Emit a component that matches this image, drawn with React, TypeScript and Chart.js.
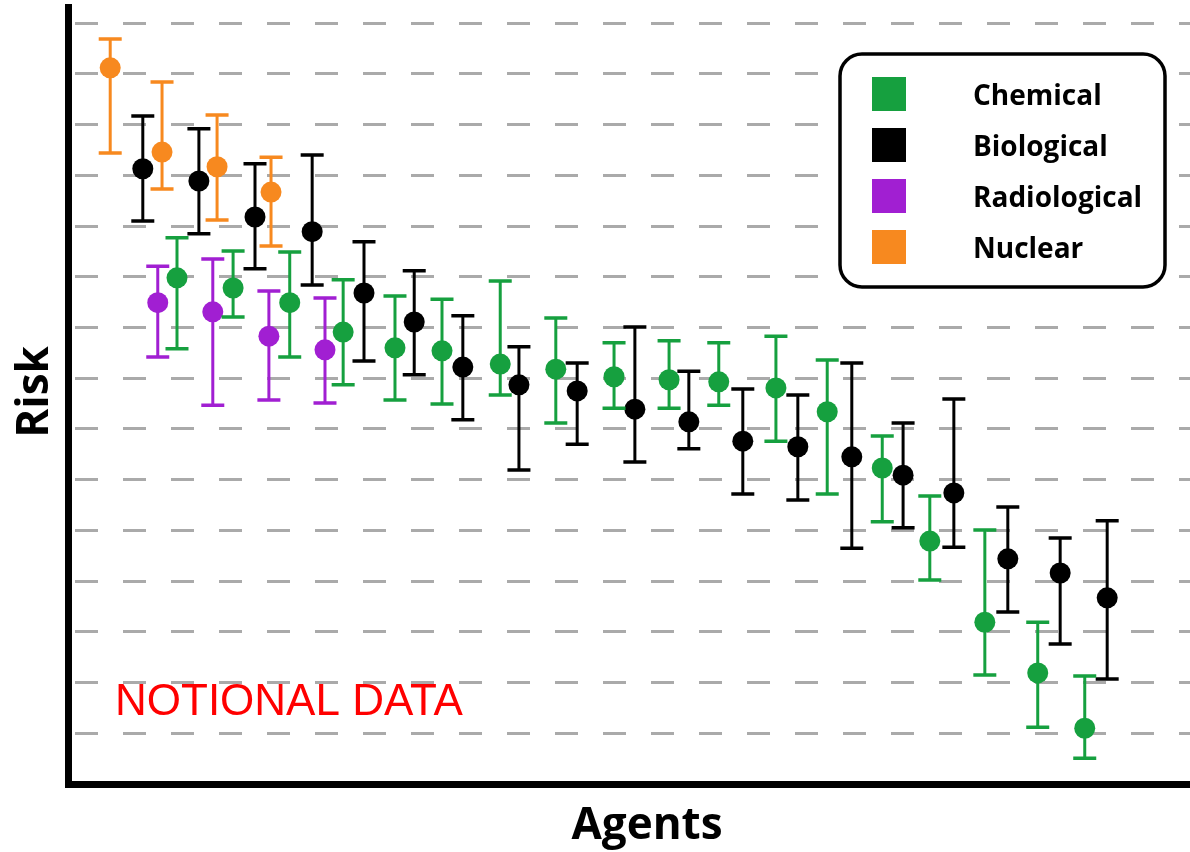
import React, { useEffect, useRef } from "react";
import { Chart, registerables } from "chart.js";

Chart.register(...registerables);

// Series labels and colours
const seriesLabels = ["Chemical", "Biological", "Radiological", "Nuclear"];
const seriesColors = ["#16a03f", "#000000", "#a11fd2", "#f7891f"];

// Chemical agents
const chemicalX = [2.04, 3.09, 4.15, 5.15, 6.12, 7.0, 8.09, 9.13, 10.22, 11.25, 12.18, 13.25, 14.21, 15.24, 16.13, 17.16, 18.15, 19.03];
const chemicalY = [9.98, 9.78, 9.49, 8.91, 8.6, 8.54, 8.28, 8.18, 8.03, 7.97, 7.93, 7.81, 7.34, 6.23, 4.79, 3.19, 2.19, 1.1];
const chemicalHigh = [10.77, 10.51, 10.49, 9.94, 9.62, 9.56, 9.92, 9.19, 8.7, 8.74, 8.7, 8.83, 8.36, 6.86, 5.68, 5.01, 3.19, 2.13];
const chemicalLow = [8.58, 9.21, 8.42, 7.87, 7.57, 7.49, 7.67, 7.12, 7.41, 7.41, 7.47, 6.76, 5.72, 5.17, 4.02, 2.15, 1.12, 0.51];

// Biological agents
const biologicalX = [1.4, 2.45, 3.5, 4.57, 5.54, 6.48, 7.39, 8.44, 9.53, 10.61, 11.62, 12.63, 13.66, 14.67, 15.63, 16.58, 17.59, 18.57, 19.45];
const biologicalY = [12.13, 11.89, 11.18, 10.89, 9.68, 9.11, 8.22, 7.87, 7.75, 7.39, 7.14, 6.76, 6.65, 6.45, 6.09, 5.74, 4.44, 4.16, 3.67];
const biologicalHigh = [13.17, 12.92, 12.23, 12.4, 10.69, 10.12, 9.23, 8.62, 8.3, 9.01, 8.14, 7.79, 7.67, 8.3, 7.12, 7.59, 5.46, 4.85, 5.19];
const biologicalLow = [11.1, 10.85, 10.16, 9.84, 8.34, 8.07, 7.18, 6.19, 6.7, 6.35, 6.61, 5.72, 5.6, 4.65, 5.05, 4.67, 3.39, 2.76, 2.07];

// Radiological agents
const radiologicalX = [1.68, 2.71, 3.76, 4.81];
const radiologicalY = [9.49, 9.31, 8.83, 8.56];
const radiologicalHigh = [10.21, 10.35, 9.72, 9.58];
const radiologicalLow = [8.42, 7.47, 7.57, 7.51];

// Nuclear agents
const nuclearX = [0.79, 1.76, 2.79, 3.8];
const nuclearY = [14.12, 12.46, 12.17, 11.67];
const nuclearHigh = [14.69, 13.84, 13.19, 12.36];
const nuclearLow = [12.44, 11.73, 11.12, 10.61];

const xTitle = "Agents";
const yTitle = "Risk";
const noteText = "NOTIONAL DATA";

const yGridValues = [1, 2, 3, 4, 5, 6, 7, 8, 9, 10, 11, 12, 13, 14, 15];

function makePoints(xs: number[], ys: number[]) {
  return xs.map((x, i) => ({ x, y: ys[i] }));
}

const errorBarPlugin = {
  id: "errorBars",
  beforeDatasetDraw(chart: any, args: any) {
    const ds = chart.data.datasets[args.index];
    if (!ds.errLow) return;
    const ctx = chart.ctx;
    const xs = chart.scales.x;
    const ys = chart.scales.y;
    ctx.save();
    ctx.strokeStyle = ds.backgroundColor;
    ctx.lineCap = "butt";
    ds.data.forEach((p: any, i: number) => {
      const px = xs.getPixelForValue(p.x);
      const top = ys.getPixelForValue(ds.errHigh[i]);
      const bot = ys.getPixelForValue(ds.errLow[i]);
      ctx.lineWidth = 3;
      ctx.beginPath();
      ctx.moveTo(px, top);
      ctx.lineTo(px, bot);
      ctx.stroke();
      ctx.lineWidth = 3.5;
      ctx.beginPath();
      ctx.moveTo(px - 11.5, top);
      ctx.lineTo(px + 11.5, top);
      ctx.moveTo(px - 11.5, bot);
      ctx.lineTo(px + 11.5, bot);
      ctx.stroke();
    });
    ctx.restore();
  },
};

const decorPlugin = {
  id: "decor",
  afterDraw(chart: any) {
    const ctx = chart.ctx;
    ctx.save();
    // Axis titles
    ctx.fillStyle = "#000";
    ctx.font = 'bold 44px "Open Sans", sans-serif';
    ctx.textAlign = "center";
    ctx.textBaseline = "alphabetic";
    ctx.fillText(xTitle, 647, 839);
    ctx.save();
    ctx.translate(48, 392);
    ctx.rotate(-Math.PI / 2);
    ctx.fillText(yTitle, 0, 0);
    ctx.restore();

    // Notional data note
    ctx.fillStyle = "#ff0000";
    ctx.font = '44px "Liberation Sans", Arial, sans-serif';
    ctx.textAlign = "left";
    ctx.fillText(noteText, 115, 715);

    // Legend box
    const bx = 840, by = 54, bw = 325, bh = 233, r = 22;
    ctx.beginPath();
    ctx.moveTo(bx + r, by);
    ctx.lineTo(bx + bw - r, by);
    ctx.arcTo(bx + bw, by, bx + bw, by + r, r);
    ctx.lineTo(bx + bw, by + bh - r);
    ctx.arcTo(bx + bw, by + bh, bx + bw - r, by + bh, r);
    ctx.lineTo(bx + r, by + bh);
    ctx.arcTo(bx, by + bh, bx, by + bh - r, r);
    ctx.lineTo(bx, by + r);
    ctx.arcTo(bx, by, bx + r, by, r);
    ctx.closePath();
    ctx.fillStyle = "#fff";
    ctx.fill();
    ctx.lineWidth = 3.5;
    ctx.strokeStyle = "#000";
    ctx.stroke();

    ctx.font = 'bold 28px "Open Sans", sans-serif';
    chart.data.datasets.forEach((ds: any, i: number) => {
      const top = 77 + i * 51;
      ctx.fillStyle = ds.backgroundColor;
      ctx.fillRect(872, top, 34, 34);
      ctx.fillStyle = "#000";
      ctx.fillText(ds.label, 973, top + 28);
    });
    ctx.restore();
  },
};

export default function App() {
  const canvasRef = useRef<HTMLCanvasElement | null>(null);

  useEffect(() => {
    const canvas = canvasRef.current;
    if (!canvas) return;
    const series = [
      [chemicalX, chemicalY, chemicalLow, chemicalHigh],
      [biologicalX, biologicalY, biologicalLow, biologicalHigh],
      [radiologicalX, radiologicalY, radiologicalLow, radiologicalHigh],
      [nuclearX, nuclearY, nuclearLow, nuclearHigh],
    ];
    const chart = new Chart(canvas, {
      type: "scatter",
      data: {
        datasets: series.map((s, i) => ({
          label: seriesLabels[i],
          data: makePoints(s[0], s[1]),
          errLow: s[2],
          errHigh: s[3],
          backgroundColor: seriesColors[i],
          borderColor: seriesColors[i],
          pointRadius: 10.5,
          pointBorderWidth: 0,
          showLine: false,
        })) as any,
      },
      options: {
        animation: false,
        responsive: false,
        devicePixelRatio: 1,
        events: [],
        layout: { autoPadding: false, padding: { left: 68, top: 7, right: 0, bottom: 68 } },
        plugins: { legend: { display: false }, tooltip: { enabled: false } },
        scales: {
          x: {
            type: "linear",
            min: 0,
            max: 21,
            ticks: { display: false },
            grid: { display: false, drawTicks: false },
            border: { display: true, color: "#000", width: 7 },
          },
          y: {
            type: "linear",
            min: 0,
            max: 15.32,
            afterBuildTicks: (scale: any) => {
              scale.ticks = yGridValues.map((v) => ({ value: v }));
            },
            ticks: { display: false },
            grid: {
              display: true,
              drawTicks: false,
              color: "#aaaaaa",
              lineWidth: 3,
            },
            border: { display: true, color: "#000", width: 7, dash: [23, 25], dashOffset: -3 },
          },
        },
      },
      plugins: [errorBarPlugin, decorPlugin],
    });
    return () => chart.destroy();
  }, []);

  return (
    <div style={{ position: "fixed", left: 0, top: 0, width: 1190, height: 852, background: "#fff" }}>
      <canvas ref={canvasRef} width={1190} height={852} style={{ display: "block" }} />
    </div>
  );
}
